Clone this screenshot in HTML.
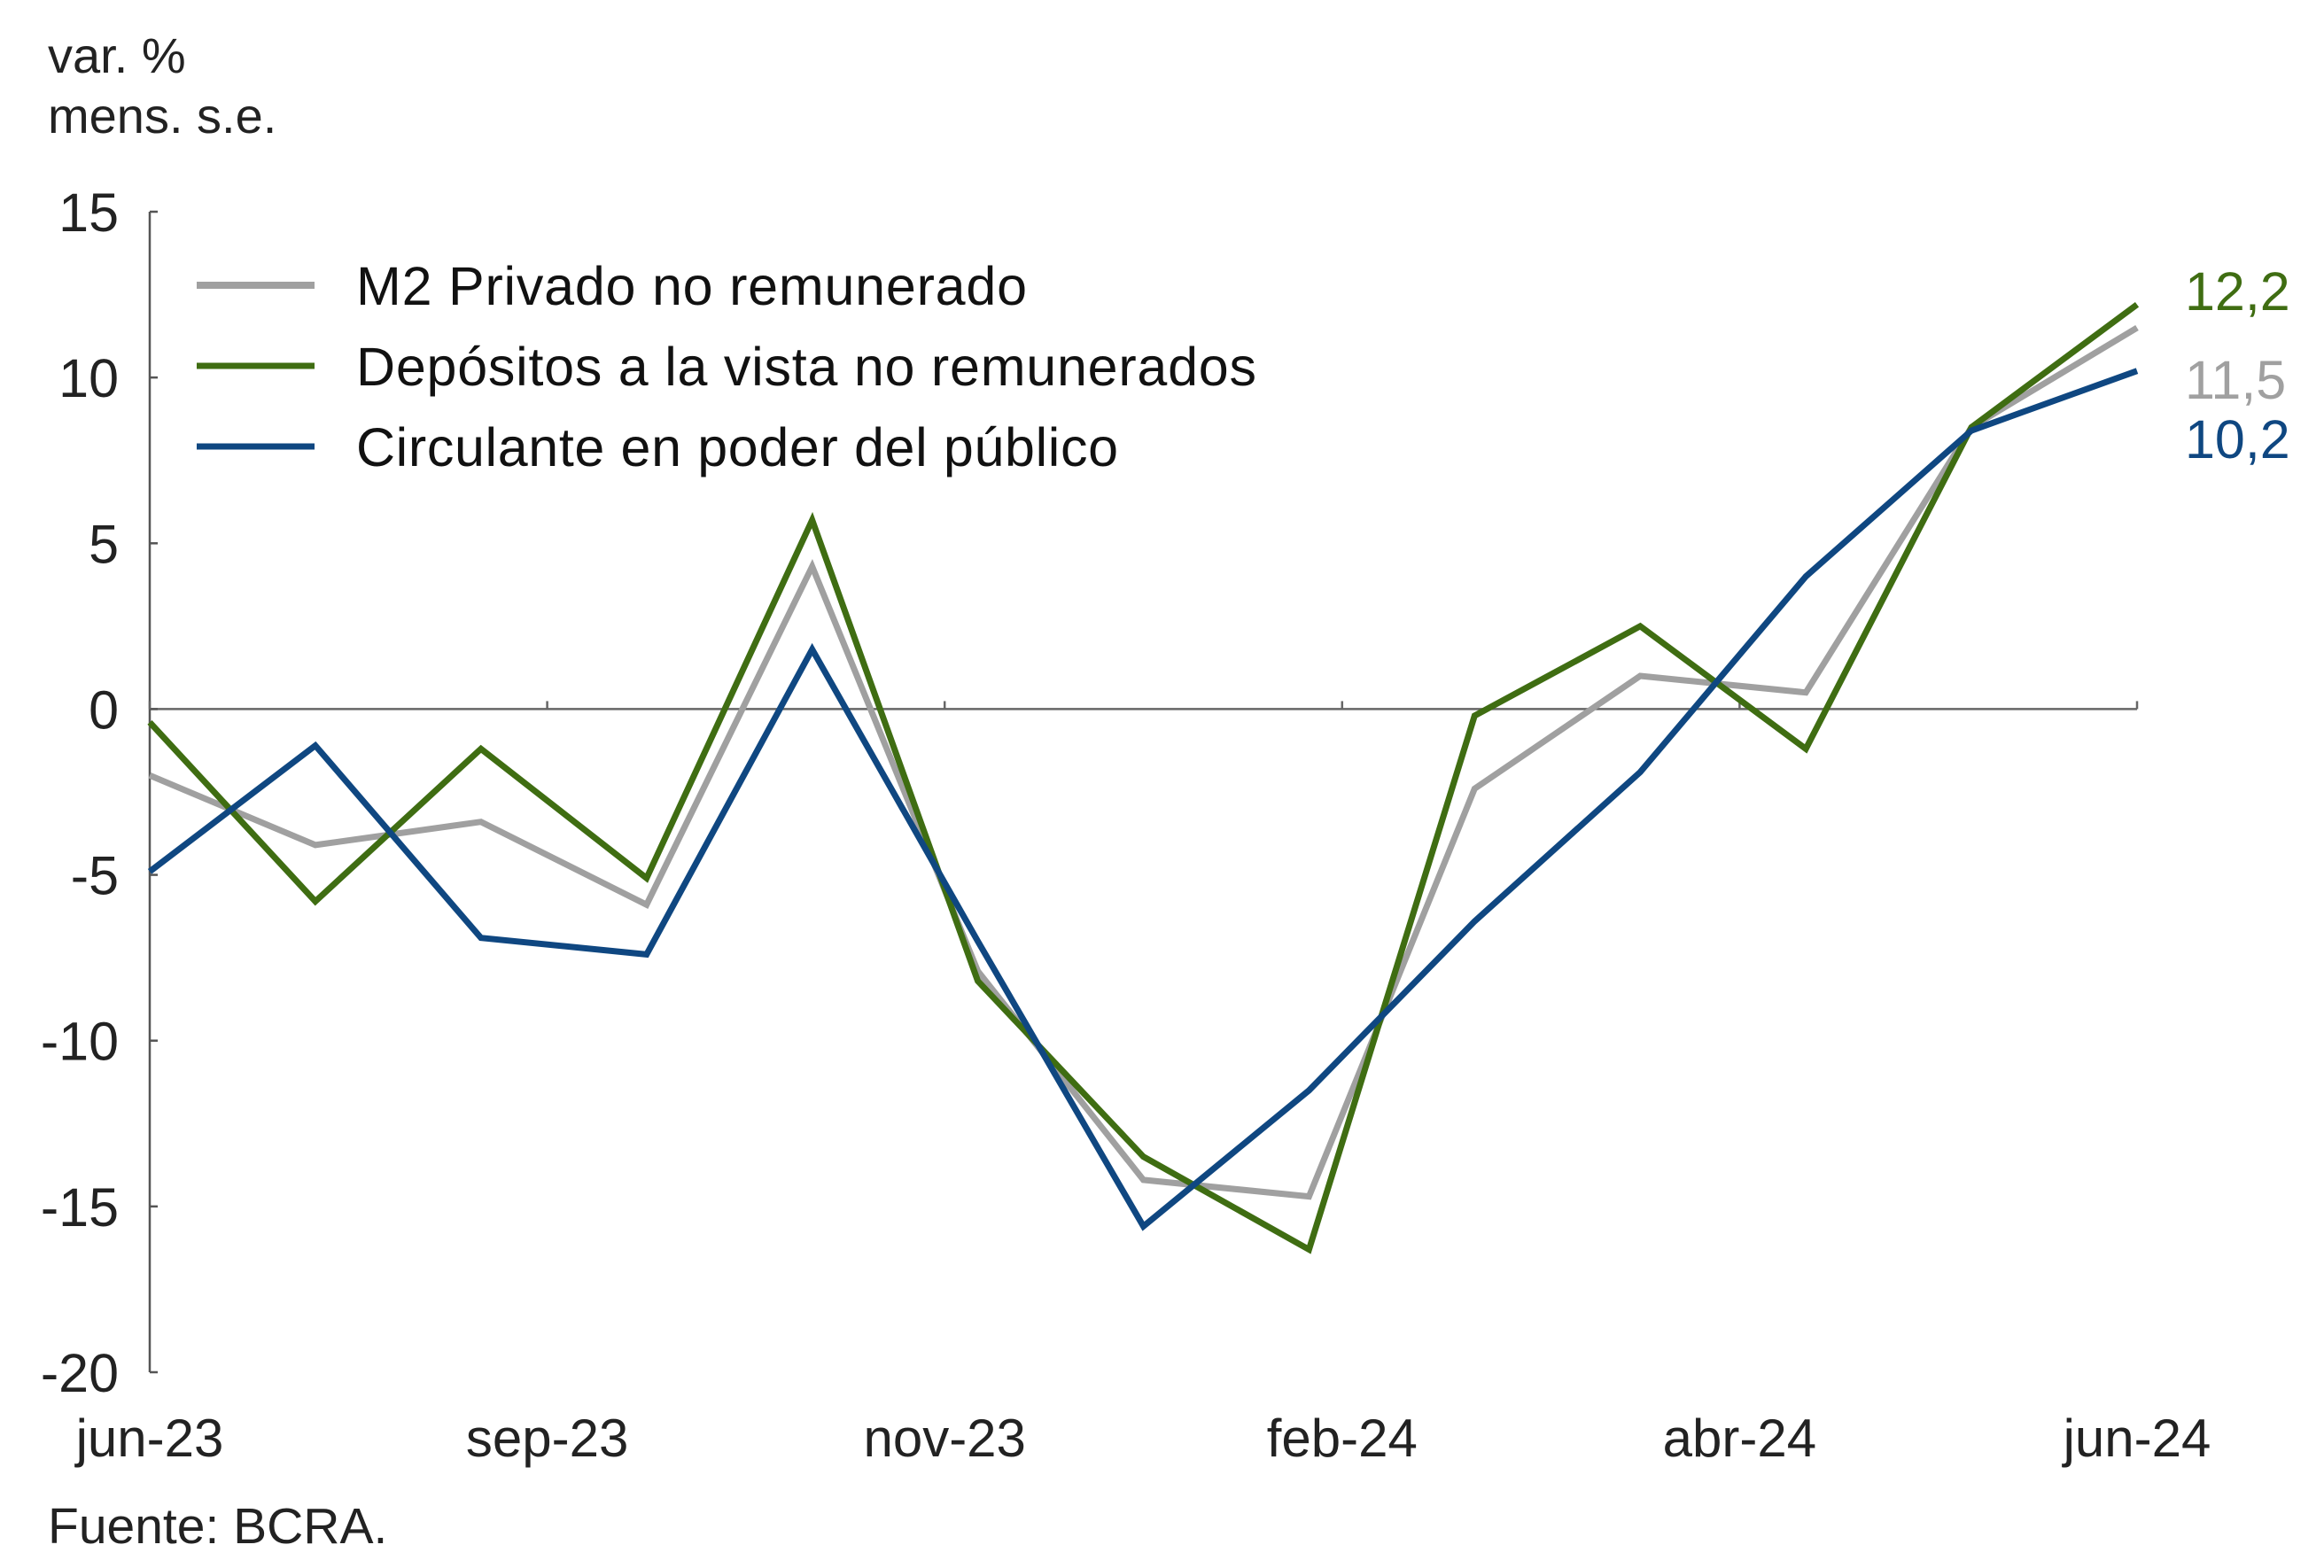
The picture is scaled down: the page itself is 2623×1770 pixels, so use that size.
<!DOCTYPE html>
<html><head><meta charset="utf-8"><style>
html,body{margin:0;padding:0;background:#fff}
svg{display:block;font-family:"Liberation Sans",sans-serif}
</style></head><body>
<svg id="chart" width="2623" height="1770" viewBox="0 0 2623 1770">
<text x="54" y="82" font-size="56" fill="#222">var. %</text>
<text x="54" y="150" font-size="56" fill="#222">mens. s.e.</text>
<text x="54" y="1742" font-size="57" fill="#222">Fuente: BCRA.</text>
<g id="axes"></g>
<g id="series"></g>
<g id="legend">
<line x1="222" y1="322" x2="355" y2="322" stroke="#a0a0a0" stroke-width="8"/>
<text x="402" y="344" font-size="61" fill="#111" textLength="757">M2 Privado no remunerado</text>
<line x1="222" y1="413" x2="355" y2="413" stroke="#3f6d12" stroke-width="7"/>
<text x="402" y="435" font-size="61" fill="#111" textLength="1016">Depósitos a la vista no remunerados</text>
<line x1="222" y1="504" x2="355" y2="504" stroke="#0f4781" stroke-width="7"/>
<text x="402" y="526" font-size="61" fill="#111" textLength="860">Circulante en poder del público</text>
</g>
</svg>
<script>
const months = ["jun-23","jul-23","ago-23","sep-23","oct-23","nov-23","dic-23","ene-24","feb-24","mar-24","abr-24","may-24","jun-24"];
const m2Values = [-2.0,-4.1,-3.4,-5.9,4.3,-7.9,-14.2,-14.7,-2.4,1.0,0.5,8.5,11.5];
const depositosValues = [-0.4,-5.8,-1.2,-5.1,5.7,-8.2,-13.5,-16.3,-0.2,2.5,-1.2,8.5,12.2];
const circulanteValues = [-4.9,-1.1,-6.9,-7.4,1.8,-7.0,-15.6,-11.5,-6.4,-1.9,4.0,8.4,10.2];
const yTicks = [15,10,5,0,-5,-10,-15,-20];
const xTickLabels = ["jun-23","sep-23","nov-23","feb-24","abr-24","jun-24"];
const endLabels = ["12,2","11,5","10,2"];

const NS="http://www.w3.org/2000/svg";
const X0=169,X1=2412,YTOP=239,YBOT=1549,VMAX=15,VMIN=-20;
function xs(i){return X0+(X1-X0)*i/(months.length-1);}
function ys(v){return YTOP+(VMAX-v)/(VMAX-VMIN)*(YBOT-YTOP);}
function mk(tag,attrs,parent){const e=document.createElementNS(NS,tag);for(const k in attrs)e.setAttribute(k,attrs[k]);parent.appendChild(e);return e;}
const axes=document.getElementById('axes'),series=document.getElementById('series');
let e=mk('line',{x1:X0,y1:YTOP,x2:X0,y2:YBOT,stroke:'#555','stroke-width':2.5},axes);


e=mk('line',{x1:X0,y1:ys(0),x2:X1,y2:ys(0),stroke:'#666','stroke-width':2.5},axes);


yTicks.forEach(v=>{
  let t=mk('line',{x1:X0,y1:ys(v),x2:X0+9,y2:ys(v),stroke:'#555','stroke-width':2.5},axes);
  
  
  let l=mk('text',{x:134,y:ys(v)+22,'font-size':61,'text-anchor':'end',fill:'#222'},axes);
  l.textContent=String(v);
  
  
});
xTickLabels.forEach((s,k)=>{
  const x=X0+(X1-X0)*k/(xTickLabels.length-1);
  let t=mk('line',{x1:x,y1:ys(0),x2:x,y2:ys(0)-9,stroke:'#666','stroke-width':2.5},axes);
  
  
  let l=mk('text',{x:x,y:1644,'font-size':60,'text-anchor':'middle',fill:'#222'},axes);
  l.textContent=s;
  
  
});
const defs=[[m2Values,'#a0a0a0','line-m2'],[depositosValues,'#3f6d12','line-depositos'],[circulanteValues,'#0f4781','line-circulante']];
defs.forEach(([vals,col,name])=>{
  const p=mk('polyline',{points:vals.map((v,i)=>xs(i)+','+ys(v)).join(' '),fill:'none',stroke:col,'stroke-width':7,'stroke-linejoin':'miter'},series);
  
  
});
const endCols=['#3f6d12','#a0a0a0','#0f4781'];
const endY=[328,428,495];
endLabels.forEach((s,k)=>{
  const l=mk('text',{x:2466,y:endY[k]+22,'font-size':61,fill:endCols[k]},series);
  l.textContent=s;
  
  
});
</script>
</body></html>
